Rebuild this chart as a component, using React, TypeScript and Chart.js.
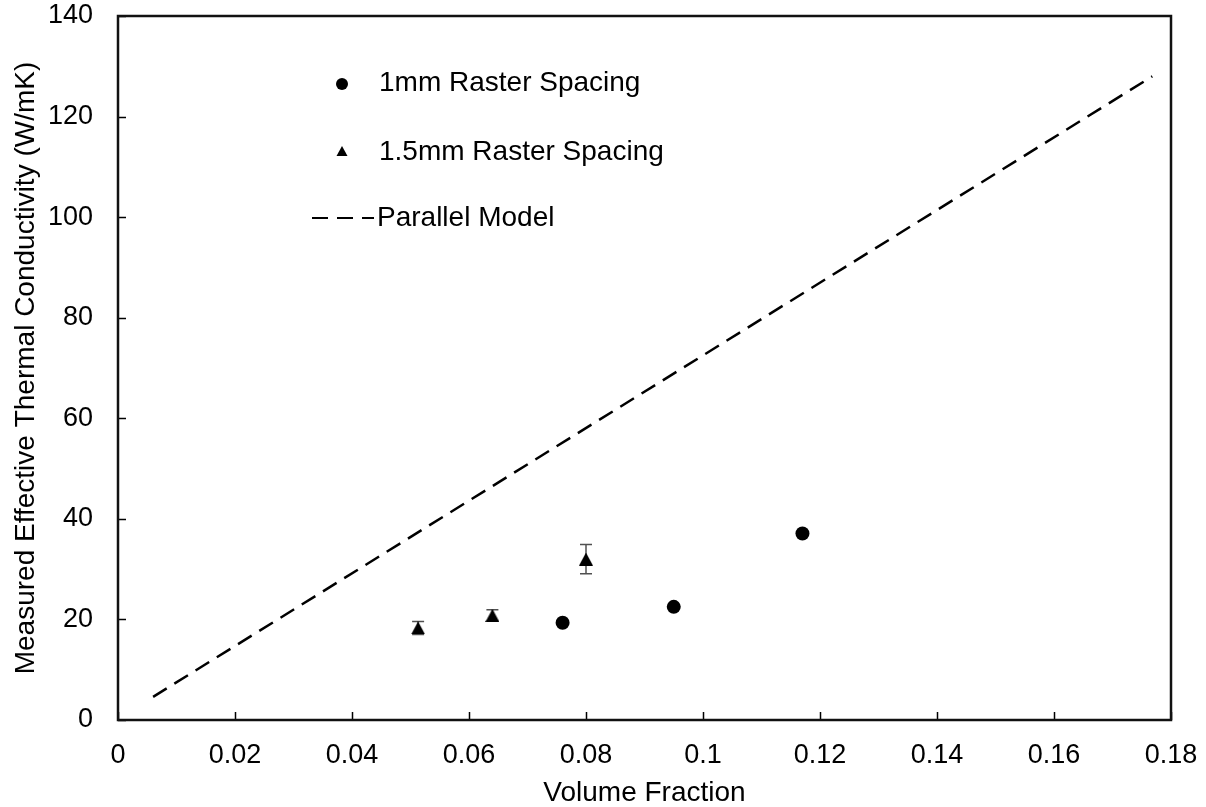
import React, { useEffect, useRef } from "react";
import { Chart, registerables } from "chart.js";

Chart.register(...registerables);

// Data
const raster1mmX = [0.076, 0.095, 0.117];
const raster1mmY = [19.35, 22.5, 37.1];
const raster15mmX = [0.0513, 0.064, 0.08];
const raster15mmY = [18.3, 20.8, 32.0];
const raster15mmErr = [1.3, 1.1, 2.9];
const parallelX = [0.006, 0.1768];
const parallelY = [4.6, 128.0];

const xTicks = [0, 0.02, 0.04, 0.06, 0.08, 0.1, 0.12, 0.14, 0.16, 0.18];
const yTicks = [0, 20, 40, 60, 80, 100, 120, 140];

const legendLabels = ["1mm Raster Spacing", "1.5mm Raster Spacing", "Parallel Model"];

const FONT = "'Liberation Sans', Arial, sans-serif";

function makeTriangle(w: number, h: number) {
  const c = document.createElement("canvas");
  c.width = w;
  c.height = h;
  const ctx = c.getContext("2d")!;
  ctx.fillStyle = "#000";
  ctx.beginPath();
  ctx.moveTo(w / 2, 0);
  ctx.lineTo(w, h);
  ctx.lineTo(0, h);
  ctx.closePath();
  ctx.fill();
  return c;
}

const framePlugin = {
  id: "framePlugin",
  beforeDatasetsDraw(chart: any) {
    const ctx = chart.ctx;
    const xs = chart.scales.x;
    const ys = chart.scales.y;
    ctx.save();
    ctx.strokeStyle = "#505050";
    ctx.lineWidth = 1.5;
    raster15mmX.forEach((x, i) => {
      const px = xs.getPixelForValue(x);
      const top = ys.getPixelForValue(raster15mmY[i] + raster15mmErr[i]);
      const bot = ys.getPixelForValue(raster15mmY[i] - raster15mmErr[i]);
      ctx.beginPath();
      ctx.moveTo(px, top);
      ctx.lineTo(px, bot);
      ctx.moveTo(px - 6, top);
      ctx.lineTo(px + 6, top);
      ctx.moveTo(px - 6, bot);
      ctx.lineTo(px + 6, bot);
      ctx.stroke();
    });
    ctx.restore();
  },
  afterDraw(chart: any) {
    const ctx = chart.ctx;
    const { left, right, top, bottom } = chart.chartArea;
    const xs = chart.scales.x;
    const ys = chart.scales.y;
    ctx.save();
    ctx.strokeStyle = "#000";
    ctx.lineWidth = 1.5;
    ctx.beginPath();
    xTicks.forEach((v) => {
      const px = Math.round(xs.getPixelForValue(v)) + 0.5;
      ctx.moveTo(px, bottom);
      ctx.lineTo(px, bottom - 8);
    });
    yTicks.forEach((v) => {
      const py = Math.round(ys.getPixelForValue(v)) + 0.5;
      ctx.moveTo(left, py);
      ctx.lineTo(left + 8, py);
    });
    ctx.stroke();
    ctx.lineWidth = 2.5;
    ctx.strokeStyle = "#111";
    ctx.strokeRect(left, top, right - left, bottom - top);

    // Legend
    ctx.fillStyle = "#000";
    ctx.font = `28px ${FONT}`;
    ctx.textBaseline = "middle";
    ctx.textAlign = "left";
    ctx.beginPath();
    ctx.arc(342, 84, 6, 0, Math.PI * 2);
    ctx.fill();
    ctx.fillText(legendLabels[0], 379, 83);
    ctx.beginPath();
    ctx.moveTo(342, 146);
    ctx.lineTo(347.5, 156);
    ctx.lineTo(336.5, 156);
    ctx.closePath();
    ctx.fill();
    ctx.fillText(legendLabels[1], 379, 152);
    ctx.strokeStyle = "#000";
    ctx.lineWidth = 2;
    ctx.setLineDash([16, 9]);
    ctx.beginPath();
    ctx.moveTo(312, 218);
    ctx.lineTo(374, 218);
    ctx.stroke();
    ctx.setLineDash([]);
    ctx.fillText(legendLabels[2], 377, 218);
    ctx.restore();
  },
};

export default function App() {
  const ref = useRef<HTMLCanvasElement | null>(null);
  useEffect(() => {
    if (!ref.current) return;
    const tri = makeTriangle(14, 13);
    const chart = new Chart(ref.current, {
      type: "scatter",
      data: {
        datasets: [
          {
            label: legendLabels[0],
            data: raster1mmX.map((x, i) => ({ x, y: raster1mmY[i] })),
            pointStyle: "circle",
            pointRadius: 7,
            backgroundColor: "#000",
            borderColor: "#000",
            borderWidth: 0,
          },
          {
            label: legendLabels[1],
            data: raster15mmX.map((x, i) => ({ x, y: raster15mmY[i] })),
            pointStyle: tri as any,
            pointRadius: 8,
            backgroundColor: "#000",
            borderColor: "#000",
            borderWidth: 0,
          },
          {
            label: legendLabels[2],
            data: parallelX.map((x, i) => ({ x, y: parallelY[i] })),
            showLine: true,
            pointRadius: 0,
            borderColor: "#000",
            borderWidth: 2.5,
            borderDash: [16, 9],
            fill: false,
          },
        ],
      },
      options: {
        animation: false,
        responsive: false,
        devicePixelRatio: 1,
        layout: { padding: { top: 16, right: 35, left: 0, bottom: 0 } },
        plugins: { legend: { display: false }, tooltip: { enabled: false } },
        scales: {
          x: {
            type: "linear",
            min: 0,
            max: 0.18,
            afterBuildTicks: (s: any) => {
              s.ticks = xTicks.map((v) => ({ value: v }));
            },
            afterFit: (s: any) => {
              s.height = 87;
              s.paddingLeft = 0;
              s.paddingRight = 0;
            },
            grid: { display: false },
            border: { display: false },
            ticks: {
              color: "#000",
              padding: 11,
              maxRotation: 0,
              font: { family: FONT, size: 27 },
              callback: (v: any) => String(parseFloat(Number(v).toFixed(2))),
            },
            title: {
              display: true,
              text: "Volume Fraction",
              color: "#000",
              font: { family: FONT, size: 28, lineHeight: 1 },
              padding: { top: 1, bottom: 0 },
            },
          },
          y: {
            type: "linear",
            min: 0,
            max: 140,
            afterBuildTicks: (s: any) => {
              s.ticks = yTicks.map((v) => ({ value: v }));
            },
            afterFit: (s: any) => {
              s.width = 118;
              s.paddingTop = 0;
              s.paddingBottom = 0;
            },
            grid: { display: false },
            border: { display: false },
            ticks: {
              color: "#000",
              padding: 17,
              font: { family: FONT, size: 27 },
            },
            title: {
              display: true,
              text: "Measured Effective Thermal Conductivity (W/mK)",
              color: "#000",
              font: { family: FONT, size: 28 },
              padding: { top: 9, bottom: 0 },
            },
          },
        },
      },
      plugins: [framePlugin],
    });
    return () => chart.destroy();
  }, []);
  return (
    <div style={{ position: "absolute", left: 0, top: 0, width: 1206, height: 807, background: "#fff" }}>
      <canvas ref={ref} width={1206} height={807} style={{ width: 1206, height: 807 }} />
    </div>
  );
}
